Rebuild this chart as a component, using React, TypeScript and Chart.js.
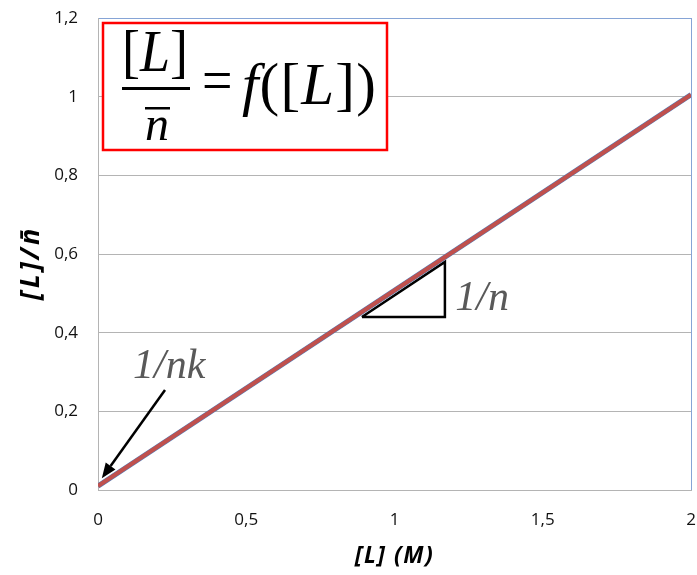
import React, { useEffect, useRef } from "react";
import { Chart, registerables } from "chart.js";
Chart.register(...registerables);

// ---- data ----
const lineX = [0, 2];
const lineY = [0.01, 1.005];
const triangleX = [0.89, 1.17, 1.17, 0.89];
const triangleY = [0.44, 0.44, 0.58, 0.44];
const yTicks = [0, 0.2, 0.4, 0.6, 0.8, 1, 1.2];
const yTickLabels = ["0", "0,2", "0,4", "0,6", "0,8", "1", "1,2"];
const xTicks = [0, 0.5, 1, 1.5, 2];
const xTickLabels = ["0", "0,5", "1", "1,5", "2"];
const xTitle = "[L] (M)";
const yTitle = "[L]/n\u0304";
const slopeLabel = "1/n";
const slopeLabelPos = [1.205, 0.458];
const interceptLabel = "1/nk";
const interceptLabelPos = [0.118, 0.285];
const arrowFrom = [0.226, 0.254];
const arrowTo = [0.013, 0.03];

const GRID = "#B4B4B4";
const BLUE_BORDER = "#86A4D6";
const SANS = '"Open Sans", "Liberation Sans", sans-serif';

type Seg = [string, boolean];
function drawSegs(
  ctx: CanvasRenderingContext2D,
  segs: Seg[],
  x: number,
  y: number,
  size: number,
  center: boolean,
  scaleX = 1,
  spacing = 0
) {
  const fontFor = (it: boolean) => `${it ? "italic " : ""}${size}px "Liberation Serif", "Times New Roman", serif`;
  let total = 0;
  const widths = segs.map(([t, it]) => {
    ctx.font = fontFor(it);
    const w = ctx.measureText(t).width * scaleX + spacing;
    total += w;
    return w;
  });
  total -= spacing;
  let cx = center ? x - total / 2 : x;
  ctx.textBaseline = "alphabetic";
  ctx.textAlign = "left";
  segs.forEach(([t, it], i) => {
    ctx.font = fontFor(it);
    ctx.save();
    ctx.translate(cx, y);
    ctx.scale(scaleX, 1);
    ctx.fillText(t, 0, 0);
    ctx.restore();
    cx += widths[i];
  });
}

const annotationPlugin = {
  id: "annotations",
  afterDatasetsDraw(chart: any) {
    const ctx: CanvasRenderingContext2D = chart.ctx;
    const xs = chart.scales.x;
    const ys = chart.scales.y;
    ctx.save();
    ctx.fillStyle = "#595959";
    ctx.font = 'italic 42px "Liberation Serif", serif';
    ctx.textAlign = "left";
    ctx.textBaseline = "alphabetic";
    ctx.fillText(slopeLabel, xs.getPixelForValue(slopeLabelPos[0]), ys.getPixelForValue(slopeLabelPos[1]));
    ctx.fillText(interceptLabel, xs.getPixelForValue(interceptLabelPos[0]), ys.getPixelForValue(interceptLabelPos[1]));
    // arrow
    const x1 = xs.getPixelForValue(arrowFrom[0]);
    const y1 = ys.getPixelForValue(arrowFrom[1]);
    const x2 = xs.getPixelForValue(arrowTo[0]);
    const y2 = ys.getPixelForValue(arrowTo[1]);
    const ang = Math.atan2(y2 - y1, x2 - x1);
    const headLen = 15;
    const headW = 6;
    const bx = x2 - headLen * Math.cos(ang);
    const by = y2 - headLen * Math.sin(ang);
    ctx.strokeStyle = "#000";
    ctx.lineWidth = 2.5;
    ctx.beginPath();
    ctx.moveTo(x1, y1);
    ctx.lineTo(bx, by);
    ctx.stroke();
    ctx.fillStyle = "#000";
    ctx.beginPath();
    ctx.moveTo(x2, y2);
    ctx.lineTo(bx + headW * Math.sin(ang), by - headW * Math.cos(ang));
    ctx.lineTo(bx - headW * Math.sin(ang), by + headW * Math.cos(ang));
    ctx.closePath();
    ctx.fill();
    ctx.restore();
  },
  afterDraw(chart: any) {
    const ctx: CanvasRenderingContext2D = chart.ctx;
    const a = chart.chartArea;
    ctx.save();
    // axis titles
    ctx.fillStyle = "#000";
    ctx.textAlign = "center";
    ctx.textBaseline = "middle";
    ctx.font = `italic bold 23px ${SANS}`;
    (ctx as any).letterSpacing = "1.5px";
    ctx.fillText(xTitle, (a.left + a.right) / 2, 556);
    ctx.save();
    ctx.translate(31, 263);
    ctx.rotate(-Math.PI / 2);
    ctx.font = `italic bold 27px ${SANS}`;
    (ctx as any).letterSpacing = "3px";
    ctx.fillText(yTitle, 0, 0);
    ctx.restore();
    (ctx as any).letterSpacing = "0px";

    // formula box
    const bx = a.left + 5;
    const by = a.top + 5;
    const bw = 284;
    const bh = 127;
    ctx.fillStyle = "#fff";
    ctx.fillRect(bx, by, bw, bh);
    ctx.strokeStyle = "#FF0000";
    ctx.lineWidth = 2.5;
    ctx.strokeRect(bx, by, bw, bh);
    ctx.fillStyle = "#000";
    // numerator
    drawSegs(ctx, [["[", false], ["L", true], ["]", false]], bx + 52, by + 47.5, 60, true, 0.9);
    // fraction bar
    ctx.fillRect(bx + 19, by + 64, 68, 3);
    // denominator
    drawSegs(ctx, [["n", true]], bx + 54, by + 117, 48, true);
    ctx.fillRect(bx + 42, by + 84, 25, 2.5);
    // equals
    drawSegs(ctx, [["=", false]], bx + 99, by + 77, 60, false, 0.9);
    // f([L])
    drawSegs(
      ctx,
      [["f", true], ["(", false], ["[", false], ["L", true], ["]", false], [")", false]],
      bx + 139,
      by + 80.5,
      59,
      false,
      1,
      1.2
    );
    ctx.restore();
  },
};

export default function App() {
  const ref = useRef<HTMLCanvasElement>(null);
  useEffect(() => {
    if (!ref.current) return;
    const tickFont = { family: SANS, size: 17 };
    const chart = new Chart(ref.current, {
      type: "scatter",
      data: {
        datasets: [
          {
            data: lineX.map((x, i) => ({ x, y: lineY[i] })),
            showLine: true,
            borderColor: "#C0504D",
            borderWidth: 4.2,
            pointRadius: 0,
            order: 0,
          },
          {
            data: lineX.map((x, i) => ({ x, y: lineY[i] })),
            showLine: true,
            borderColor: "#4F81BD",
            borderWidth: 5,
            pointRadius: 0,
            order: 1,
          },
          {
            data: triangleX.map((x, i) => ({ x, y: triangleY[i] })),
            showLine: true,
            borderColor: "#000",
            borderWidth: 2.5,
            pointRadius: 0,
            order: 2,
          },
        ],
      },
      options: {
        animation: false,
        responsive: false,
        devicePixelRatio: 1,
        layout: { padding: { top: 18, right: 6, left: 0, bottom: 0 } },
        plugins: { legend: { display: false }, tooltip: { enabled: false } },
        scales: {
          x: {
            type: "linear",
            min: 0,
            max: 2,
            afterFit: (s: any) => {
              s.height = 85;
              s.paddingLeft = 0;
              s.paddingRight = 0;
            },
            afterBuildTicks: (s: any) => {
              s.ticks = xTicks.map((v) => ({ value: v }));
            },
            ticks: {
              font: tickFont,
              color: "#111",
              padding: 20,
              maxRotation: 0,
              callback: (_v: any, i: number) => xTickLabels[i],
            },
            grid: {
              drawTicks: false,
              color: (c: any) => (c.tick && c.tick.value === 2 ? BLUE_BORDER : "rgba(0,0,0,0)"),
            },
            border: { color: GRID, width: 1 },
          },
          y: {
            type: "linear",
            min: 0,
            max: 1.2,
            afterFit: (s: any) => {
              s.width = 98;
              s.paddingTop = 0;
              s.paddingBottom = 0;
            },
            afterBuildTicks: (s: any) => {
              s.ticks = yTicks.map((v) => ({ value: v }));
            },
            ticks: {
              font: tickFont,
              color: "#111",
              padding: 20,
              callback: (_v: any, i: number) => yTickLabels[i],
            },
            grid: {
              drawTicks: false,
              color: (c: any) => (c.tick && c.tick.value === 1.2 ? BLUE_BORDER : GRID),
            },
            border: { color: GRID, width: 1 },
          },
        },
      },
      plugins: [annotationPlugin],
    });
    return () => chart.destroy();
  }, []);
  return (
    <div style={{ position: "absolute", left: 0, top: 0, width: 697, height: 575, background: "#fff" }}>
      <canvas ref={ref} width={697} height={575} />
    </div>
  );
}
